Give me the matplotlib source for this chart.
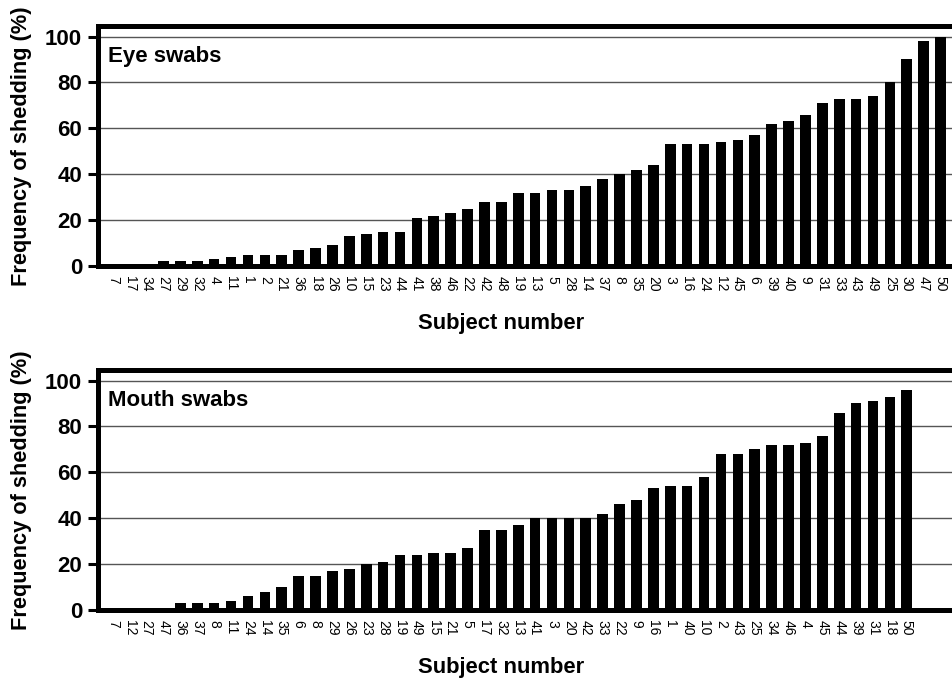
import numpy as np
import matplotlib as mpl
mpl.use('Agg')
import matplotlib.pyplot as plt

plt.rcParams['font.family'] = ['Liberation Sans', 'DejaVu Sans']

# Eye swabs, sorted by frequency
eye_subjects = ['7', '17', '34', '27', '29', '32', '4', '11', '1', '2',
                '21', '36', '18', '26', '10', '15', '23', '44', '41', '38',
                '46', '22', '42', '48', '19', '13', '5', '28', '14', '37',
                '8', '35', '20', '3', '16', '24', '12', '45', '6', '39',
                '40', '9', '31', '33', '43', '49', '25', '30', '47', '50']
eye_freq = [0, 0, 0, 2, 2, 2, 3, 4, 5, 5,
            5, 7, 8, 9, 13, 14, 15, 15, 21, 22,
            23, 25, 28, 28, 32, 32, 33, 33, 35, 38,
            40, 42, 44, 53, 53, 53, 54, 55, 57, 62,
            63, 66, 71, 73, 73, 74, 80, 90, 98, 100]

# Mouth swabs, sorted by frequency
mouth_subjects = ['7', '12', '27', '47', '36', '37', '8', '11', '24', '14',
                  '35', '6', '8', '29', '26', '23', '28', '19', '49', '15',
                  '21', '5', '17', '32', '13', '41', '3', '20', '42', '33',
                  '22', '9', '16', '1', '40', '10', '2', '43', '25', '34',
                  '46', '4', '45', '44', '39', '31', '18', '50']
mouth_freq = [0, 0, 0, 0, 3, 3, 3, 4, 6, 8,
              10, 15, 15, 17, 18, 20, 21, 24, 24, 25,
              25, 27, 35, 35, 37, 40, 40, 40, 40, 42,
              46, 48, 53, 54, 54, 58, 68, 68, 70, 72,
              72, 73, 76, 86, 90, 91, 93, 96]

fig = plt.figure(figsize=(9.52, 6.88), dpi=100)

W, H = 952.0, 688.0
ax_left = 97.5 / W
ax_width = 865 / W   # runs past the right edge, like the cropped original

panels = [
    (eye_subjects, eye_freq, 'Eye swabs', 266),
    (mouth_subjects, mouth_freq, 'Mouth swabs', 610),
]

for subjects, freq, title, y0 in panels:
    ax = fig.add_axes([ax_left, 1 - y0 / H, ax_width, 240 / H])
    x = np.arange(len(subjects))
    ax.bar(x, freq, width=0.63, color='black', zorder=3)

    ax.set_xlim(-0.906, 50.3)
    ax.set_ylim(0, 104.6)
    ax.set_yticks([0, 20, 40, 60, 80, 100])
    ax.set_yticklabels(['0', '20', '40', '60', '80', '100'],
                       fontsize=16, fontweight='bold')
    ax.set_xticks(x)
    ax.set_xticklabels(subjects, rotation=270, fontsize=10)
    ax.tick_params(axis='x', length=0, pad=7)
    ax.tick_params(axis='y', length=7, width=2.2, direction='out', pad=4)

    for y in [20, 40, 60, 80, 100]:
        ax.axhline(y, color='#555555', lw=1.0, zorder=1)

    for side in ['left', 'bottom', 'top']:
        ax.spines[side].set_linewidth(3.6)
    ax.spines['right'].set_visible(False)

    ax.text(0.012, 0.873, title, transform=ax.transAxes, fontsize=16,
            fontweight='bold', ha='left', va='center')

    fig.text(22 / W, 1 - (y0 - 120) / H, 'Frequency of shedding (%)',
             fontsize=15.7, fontweight='bold', rotation=90,
             ha='center', va='center')
    fig.text(501 / W, 1 - (y0 + 58) / H, 'Subject number', fontsize=15.8,
             fontweight='bold', ha='center', va='center')

fig.savefig('out.png', dpi=100)
